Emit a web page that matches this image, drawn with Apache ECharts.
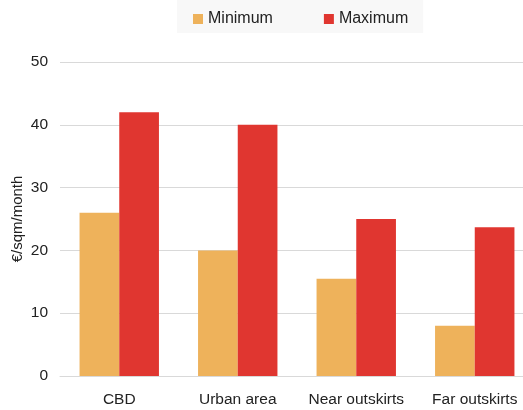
<!DOCTYPE html>
<html>
<head>
<meta charset="utf-8">
<script src="https://cdn.jsdelivr.net/npm/echarts@6/dist/echarts.min.js"></script>
<style>
  html, body { margin: 0; padding: 0; background: #ffffff; }
  #chart { width: 523px; height: 410px; }
</style>
</head>
<body>
<div id="chart"></div>
<script>
// Office rent ranges by location (€/sqm/month)
const categories = ['CBD', 'Urban area', 'Near outskirts', 'Far outskirts'];
const minimumRent = [26, 20, 15.5, 8];
const maximumRent = [42, 40, 25, 23.7];
const seriesNames = ['Minimum', 'Maximum'];

const FONT = '"Liberation Sans", Arial, sans-serif';
const TEXT = '#222222';
const GRID = '#d9d9d9';

const chart = echarts.init(document.getElementById('chart'), null, { renderer: 'canvas' });

chart.setOption({
  animation: false,
  color: ['#EEB25B', '#E03630'],
  textStyle: { fontFamily: FONT },
  legend: {
    data: seriesNames,
    left: 177,
    top: 0,
    padding: [11, 15, 6, 16],
    backgroundColor: '#f8f8f8',
    itemWidth: 10,
    itemHeight: 10,
    itemGap: 51,
    icon: 'rect',
    textStyle: { fontFamily: FONT, fontSize: 16, color: TEXT }
  },
  grid: {
    left: 60,
    top: 62,
    width: 474,
    bottom: 34,
    containLabel: false,
    outerBoundsMode: 'none'
  },
  xAxis: {
    type: 'category',
    data: categories,
    axisLine: { show: true, lineStyle: { color: GRID, width: 1 } },
    axisTick: { show: false },
    axisLabel: { color: TEXT, fontFamily: FONT, fontSize: 15.5, margin: 16, interval: 0, hideOverlap: false },
    splitLine: { show: false }
  },
  yAxis: {
    type: 'value',
    min: 0,
    max: 50,
    interval: 10,
    name: '€/sqm/month',
    nameLocation: 'middle',
    nameGap: 35,
    nameMoveOverlap: false,
    nameRotate: 90,
    nameTextStyle: { color: TEXT, fontFamily: FONT, fontSize: 15 },
    axisLine: { show: false },
    axisTick: { show: false },
    axisLabel: { color: TEXT, fontFamily: FONT, fontSize: 15.5, margin: 12 },
    splitLine: { show: true, lineStyle: { color: GRID, width: 1 } }
  },
  series: [
    {
      name: seriesNames[0],
      type: 'bar',
      data: minimumRent,
      barGap: '0%',
      barCategoryGap: '33%'
    },
    {
      name: seriesNames[1],
      type: 'bar',
      data: maximumRent,
      barGap: '0%',
      barCategoryGap: '33%'
    }
  ]
});
</script>
</body>
</html>
